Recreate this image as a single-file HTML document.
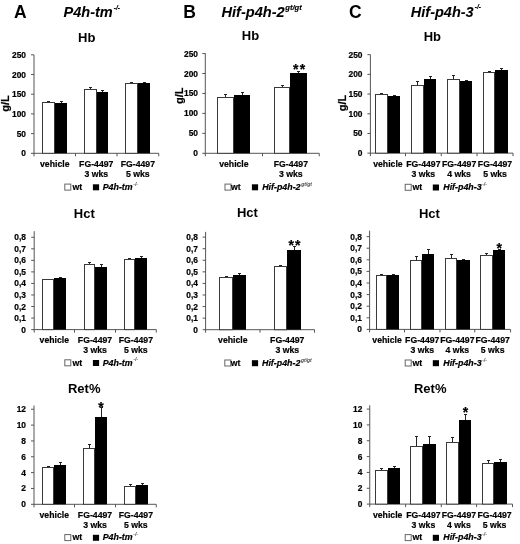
<!DOCTYPE html>
<html><head><meta charset="utf-8"><style>
html,body{margin:0;padding:0;background:#fff;width:520px;height:544px;overflow:hidden}
svg{display:block;filter:grayscale(1)}
text{font-family:"Liberation Sans", sans-serif;fill:#000;stroke:#000;stroke-width:0.2px}
</style></head><body>
<svg width="520" height="544" viewBox="0 0 520 544">
<rect width="520" height="544" fill="#fff"/>
<text x="14" y="17.8" font-size="17.5" text-anchor="start" font-weight="bold" font-style="normal" style="stroke-width:0px" >A</text>
<text x="63.5" y="17" font-size="14.55" text-anchor="start" font-weight="bold" font-style="italic" style="stroke-width:0.05px" >P4h-tm<tspan font-size="6.6" dx="0.9" dy="-7.4" style="stroke-width:0.15px">-/-</tspan></text>
<text x="183.2" y="17.8" font-size="17.5" text-anchor="start" font-weight="bold" font-style="normal" style="stroke-width:0px" >B</text>
<text x="221.5" y="17" font-size="14.6" text-anchor="start" font-weight="bold" font-style="italic" style="stroke-width:0.05px" >Hif-p4h-2<tspan font-size="7.6" dx="0.6" dy="-7.3" style="stroke-width:0.15px">gt/gt</tspan></text>
<text x="349" y="17.8" font-size="17.5" text-anchor="start" font-weight="bold" font-style="normal" style="stroke-width:0px" >C</text>
<text x="410.8" y="17" font-size="14.5" text-anchor="start" font-weight="bold" font-style="italic" style="stroke-width:0.05px" >Hif-p4h-3<tspan font-size="6.6" dx="1.2" dy="-7.8" style="stroke-width:0.15px">-/-</tspan></text>
<text x="86.7" y="42.3" font-size="13" text-anchor="middle" font-weight="bold" font-style="normal" style="stroke-width:0px" >Hb</text>
<text x="250.5" y="40.2" font-size="13" text-anchor="middle" font-weight="bold" font-style="normal" style="stroke-width:0px" >Hb</text>
<text x="432.4" y="41.4" font-size="13" text-anchor="middle" font-weight="bold" font-style="normal" style="stroke-width:0px" >Hb</text>
<text x="84.3" y="218.4" font-size="13" text-anchor="middle" font-weight="bold" font-style="normal" style="stroke-width:0px" >Hct</text>
<text x="247.4" y="216.7" font-size="13" text-anchor="middle" font-weight="bold" font-style="normal" style="stroke-width:0px" >Hct</text>
<text x="429.4" y="217.6" font-size="13" text-anchor="middle" font-weight="bold" font-style="normal" style="stroke-width:0px" >Hct</text>
<text x="84.2" y="392.7" font-size="13" text-anchor="middle" font-weight="bold" font-style="normal" style="stroke-width:0px" >Ret%</text>
<text x="430.2" y="392.7" font-size="13" text-anchor="middle" font-weight="bold" font-style="normal" style="stroke-width:0px" >Ret%</text>
<text x="9" y="103.5" font-size="11" text-anchor="middle" font-weight="bold" font-style="normal" transform="rotate(-90 9 103.5)">g/L</text>
<text x="182.6" y="95.8" font-size="11" text-anchor="middle" font-weight="bold" font-style="normal" transform="rotate(-90 182.6 95.8)">g/L</text>
<text x="345.5" y="103" font-size="11" text-anchor="middle" font-weight="bold" font-style="normal" transform="rotate(-90 345.5 103)">g/L</text>
<line x1="34" y1="55" x2="34" y2="153.8" stroke="#555" stroke-width="1"/>
<line x1="31" y1="153.3" x2="34" y2="153.3" stroke="#555" stroke-width="1"/>
<text x="26" y="156.3" font-size="8.4" text-anchor="end" font-weight="bold" font-style="normal" >0</text>
<line x1="31" y1="133.60000000000002" x2="34" y2="133.60000000000002" stroke="#555" stroke-width="1"/>
<text x="26" y="136.60000000000002" font-size="8.4" text-anchor="end" font-weight="bold" font-style="normal" >50</text>
<line x1="31" y1="113.9" x2="34" y2="113.9" stroke="#555" stroke-width="1"/>
<text x="26" y="116.9" font-size="8.4" text-anchor="end" font-weight="bold" font-style="normal" >100</text>
<line x1="31" y1="94.20000000000002" x2="34" y2="94.20000000000002" stroke="#555" stroke-width="1"/>
<text x="26" y="97.20000000000002" font-size="8.4" text-anchor="end" font-weight="bold" font-style="normal" >150</text>
<line x1="31" y1="74.50000000000001" x2="34" y2="74.50000000000001" stroke="#555" stroke-width="1"/>
<text x="26" y="77.50000000000001" font-size="8.4" text-anchor="end" font-weight="bold" font-style="normal" >200</text>
<line x1="31" y1="54.800000000000026" x2="34" y2="54.800000000000026" stroke="#555" stroke-width="1"/>
<text x="26" y="57.800000000000026" font-size="8.4" text-anchor="end" font-weight="bold" font-style="normal" >250</text>
<line x1="34" y1="153.3" x2="158.75" y2="153.3" stroke="#555" stroke-width="1"/>
<line x1="34" y1="153.3" x2="34" y2="156.3" stroke="#555" stroke-width="1"/>
<line x1="75.5" y1="153.3" x2="75.5" y2="156.3" stroke="#555" stroke-width="1"/>
<line x1="117" y1="153.3" x2="117" y2="156.3" stroke="#555" stroke-width="1"/>
<line x1="158.75" y1="153.3" x2="158.75" y2="156.3" stroke="#555" stroke-width="1"/>
<line x1="48.5" y1="101.5" x2="48.5" y2="102" stroke="#222" stroke-width="1"/>
<line x1="47.0" y1="101.5" x2="50.0" y2="101.5" stroke="#222" stroke-width="1"/>
<rect x="42.5" y="102.5" width="12" height="50.80000000000001" fill="#fff" stroke="#3a3a3a" stroke-width="1"/>
<line x1="61.5" y1="101.5" x2="61.5" y2="103" stroke="#222" stroke-width="1"/>
<line x1="60.0" y1="101.5" x2="63.0" y2="101.5" stroke="#222" stroke-width="1"/>
<rect x="55" y="103" width="12" height="50.30000000000001" fill="#000"/>
<line x1="90.5" y1="87.5" x2="90.5" y2="89" stroke="#222" stroke-width="1"/>
<line x1="89.0" y1="87.5" x2="92.0" y2="87.5" stroke="#222" stroke-width="1"/>
<rect x="84.5" y="89.5" width="12" height="63.80000000000001" fill="#fff" stroke="#3a3a3a" stroke-width="1"/>
<line x1="102.5" y1="90.5" x2="102.5" y2="92" stroke="#222" stroke-width="1"/>
<line x1="101.0" y1="90.5" x2="104.0" y2="90.5" stroke="#222" stroke-width="1"/>
<rect x="97" y="92" width="11" height="61.30000000000001" fill="#000"/>
<line x1="131.5" y1="82.5" x2="131.5" y2="83" stroke="#222" stroke-width="1"/>
<line x1="130.0" y1="82.5" x2="133.0" y2="82.5" stroke="#222" stroke-width="1"/>
<rect x="125.5" y="83.5" width="12" height="69.80000000000001" fill="#fff" stroke="#3a3a3a" stroke-width="1"/>
<line x1="144.5" y1="82.5" x2="144.5" y2="83" stroke="#222" stroke-width="1"/>
<line x1="143.0" y1="82.5" x2="146.0" y2="82.5" stroke="#222" stroke-width="1"/>
<rect x="138" y="83" width="12" height="70.30000000000001" fill="#000"/>
<text x="54.75" y="167.3" font-size="8.7" text-anchor="middle" font-weight="bold" font-style="normal" >vehicle</text>
<text x="96.25" y="167.3" font-size="8.7" text-anchor="middle" font-weight="bold" font-style="normal" >FG-4497</text>
<text x="96.25" y="177.0" font-size="8.7" text-anchor="middle" font-weight="bold" font-style="normal" >3 wks</text>
<text x="137.875" y="167.3" font-size="8.7" text-anchor="middle" font-weight="bold" font-style="normal" >FG-4497</text>
<text x="137.875" y="177.0" font-size="8.7" text-anchor="middle" font-weight="bold" font-style="normal" >5 wks</text>
<line x1="34.2" y1="231.2" x2="34.2" y2="330.1" stroke="#555" stroke-width="1"/>
<line x1="31.200000000000003" y1="329.6" x2="34.2" y2="329.6" stroke="#555" stroke-width="1"/>
<text x="26" y="332.6" font-size="8.4" text-anchor="end" font-weight="bold" font-style="normal" >0</text>
<line x1="31.200000000000003" y1="318.06" x2="34.2" y2="318.06" stroke="#555" stroke-width="1"/>
<text x="26" y="321.06" font-size="8.4" text-anchor="end" font-weight="bold" font-style="normal" >0,1</text>
<line x1="31.200000000000003" y1="306.52000000000004" x2="34.2" y2="306.52000000000004" stroke="#555" stroke-width="1"/>
<text x="26" y="309.52000000000004" font-size="8.4" text-anchor="end" font-weight="bold" font-style="normal" >0,2</text>
<line x1="31.200000000000003" y1="294.98" x2="34.2" y2="294.98" stroke="#555" stroke-width="1"/>
<text x="26" y="297.98" font-size="8.4" text-anchor="end" font-weight="bold" font-style="normal" >0,3</text>
<line x1="31.200000000000003" y1="283.44" x2="34.2" y2="283.44" stroke="#555" stroke-width="1"/>
<text x="26" y="286.44" font-size="8.4" text-anchor="end" font-weight="bold" font-style="normal" >0,4</text>
<line x1="31.200000000000003" y1="271.90000000000003" x2="34.2" y2="271.90000000000003" stroke="#555" stroke-width="1"/>
<text x="26" y="274.90000000000003" font-size="8.4" text-anchor="end" font-weight="bold" font-style="normal" >0,5</text>
<line x1="31.200000000000003" y1="260.36" x2="34.2" y2="260.36" stroke="#555" stroke-width="1"/>
<text x="26" y="263.36" font-size="8.4" text-anchor="end" font-weight="bold" font-style="normal" >0,6</text>
<line x1="31.200000000000003" y1="248.82000000000002" x2="34.2" y2="248.82000000000002" stroke="#555" stroke-width="1"/>
<text x="26" y="251.82000000000002" font-size="8.4" text-anchor="end" font-weight="bold" font-style="normal" >0,7</text>
<line x1="31.200000000000003" y1="237.28000000000003" x2="34.2" y2="237.28000000000003" stroke="#555" stroke-width="1"/>
<text x="26" y="240.28000000000003" font-size="8.4" text-anchor="end" font-weight="bold" font-style="normal" >0,8</text>
<line x1="34.2" y1="329.6" x2="156.25" y2="329.6" stroke="#555" stroke-width="1"/>
<line x1="34.2" y1="329.6" x2="34.2" y2="332.6" stroke="#555" stroke-width="1"/>
<line x1="74.5" y1="329.6" x2="74.5" y2="332.6" stroke="#555" stroke-width="1"/>
<line x1="115.5" y1="329.6" x2="115.5" y2="332.6" stroke="#555" stroke-width="1"/>
<line x1="156.25" y1="329.6" x2="156.25" y2="332.6" stroke="#555" stroke-width="1"/>
<line x1="48.5" y1="279.5" x2="48.5" y2="279" stroke="#222" stroke-width="1"/>
<line x1="47.0" y1="279.5" x2="50.0" y2="279.5" stroke="#222" stroke-width="1"/>
<rect x="42.5" y="279.5" width="11" height="50.10000000000002" fill="#fff" stroke="#3a3a3a" stroke-width="1"/>
<line x1="60.5" y1="277.5" x2="60.5" y2="278" stroke="#222" stroke-width="1"/>
<line x1="59.0" y1="277.5" x2="62.0" y2="277.5" stroke="#222" stroke-width="1"/>
<rect x="54" y="278" width="12" height="51.60000000000002" fill="#000"/>
<line x1="89.5" y1="262.5" x2="89.5" y2="264" stroke="#222" stroke-width="1"/>
<line x1="88.0" y1="262.5" x2="91.0" y2="262.5" stroke="#222" stroke-width="1"/>
<rect x="84.5" y="264.5" width="10" height="65.10000000000002" fill="#fff" stroke="#3a3a3a" stroke-width="1"/>
<line x1="101.5" y1="264.5" x2="101.5" y2="267" stroke="#222" stroke-width="1"/>
<line x1="100.0" y1="264.5" x2="103.0" y2="264.5" stroke="#222" stroke-width="1"/>
<rect x="95" y="267" width="12" height="62.60000000000002" fill="#000"/>
<line x1="129.5" y1="258.5" x2="129.5" y2="259" stroke="#222" stroke-width="1"/>
<line x1="128.0" y1="258.5" x2="131.0" y2="258.5" stroke="#222" stroke-width="1"/>
<rect x="124.5" y="259.5" width="10" height="70.10000000000002" fill="#fff" stroke="#3a3a3a" stroke-width="1"/>
<line x1="141.5" y1="256.5" x2="141.5" y2="258" stroke="#222" stroke-width="1"/>
<line x1="140.0" y1="256.5" x2="143.0" y2="256.5" stroke="#222" stroke-width="1"/>
<rect x="135" y="258" width="12" height="71.60000000000002" fill="#000"/>
<text x="54.35" y="342.5" font-size="8.7" text-anchor="middle" font-weight="bold" font-style="normal" >vehicle</text>
<text x="95.0" y="342.5" font-size="8.7" text-anchor="middle" font-weight="bold" font-style="normal" >FG-4497</text>
<text x="95.0" y="352.6" font-size="8.7" text-anchor="middle" font-weight="bold" font-style="normal" >3 wks</text>
<text x="135.875" y="342.5" font-size="8.7" text-anchor="middle" font-weight="bold" font-style="normal" >FG-4497</text>
<text x="135.875" y="352.6" font-size="8.7" text-anchor="middle" font-weight="bold" font-style="normal" >5 wks</text>
<line x1="34" y1="405.5" x2="34" y2="504.8" stroke="#555" stroke-width="1"/>
<line x1="31" y1="504.3" x2="34" y2="504.3" stroke="#555" stroke-width="1"/>
<text x="26" y="507.3" font-size="8.4" text-anchor="end" font-weight="bold" font-style="normal" >0</text>
<line x1="31" y1="488.46000000000004" x2="34" y2="488.46000000000004" stroke="#555" stroke-width="1"/>
<text x="26" y="491.46000000000004" font-size="8.4" text-anchor="end" font-weight="bold" font-style="normal" >2</text>
<line x1="31" y1="472.62" x2="34" y2="472.62" stroke="#555" stroke-width="1"/>
<text x="26" y="475.62" font-size="8.4" text-anchor="end" font-weight="bold" font-style="normal" >4</text>
<line x1="31" y1="456.78000000000003" x2="34" y2="456.78000000000003" stroke="#555" stroke-width="1"/>
<text x="26" y="459.78000000000003" font-size="8.4" text-anchor="end" font-weight="bold" font-style="normal" >6</text>
<line x1="31" y1="440.94" x2="34" y2="440.94" stroke="#555" stroke-width="1"/>
<text x="26" y="443.94" font-size="8.4" text-anchor="end" font-weight="bold" font-style="normal" >8</text>
<line x1="31" y1="425.1" x2="34" y2="425.1" stroke="#555" stroke-width="1"/>
<text x="26" y="428.1" font-size="8.4" text-anchor="end" font-weight="bold" font-style="normal" >10</text>
<line x1="31" y1="409.26" x2="34" y2="409.26" stroke="#555" stroke-width="1"/>
<text x="26" y="412.26" font-size="8.4" text-anchor="end" font-weight="bold" font-style="normal" >12</text>
<line x1="34" y1="504.3" x2="156.25" y2="504.3" stroke="#555" stroke-width="1"/>
<line x1="34" y1="504.3" x2="34" y2="507.3" stroke="#555" stroke-width="1"/>
<line x1="74.5" y1="504.3" x2="74.5" y2="507.3" stroke="#555" stroke-width="1"/>
<line x1="115.5" y1="504.3" x2="115.5" y2="507.3" stroke="#555" stroke-width="1"/>
<line x1="156.25" y1="504.3" x2="156.25" y2="507.3" stroke="#555" stroke-width="1"/>
<line x1="48.5" y1="466.5" x2="48.5" y2="467" stroke="#222" stroke-width="1"/>
<line x1="47.0" y1="466.5" x2="50.0" y2="466.5" stroke="#222" stroke-width="1"/>
<rect x="42.5" y="467.5" width="11" height="36.80000000000001" fill="#fff" stroke="#3a3a3a" stroke-width="1"/>
<line x1="60.5" y1="462.5" x2="60.5" y2="465" stroke="#222" stroke-width="1"/>
<line x1="59.0" y1="462.5" x2="62.0" y2="462.5" stroke="#222" stroke-width="1"/>
<rect x="54" y="465" width="12" height="39.30000000000001" fill="#000"/>
<line x1="89.5" y1="444.5" x2="89.5" y2="448" stroke="#222" stroke-width="1"/>
<line x1="88.0" y1="444.5" x2="91.0" y2="444.5" stroke="#222" stroke-width="1"/>
<rect x="83.5" y="448.5" width="11" height="55.80000000000001" fill="#fff" stroke="#3a3a3a" stroke-width="1"/>
<line x1="101.5" y1="407.5" x2="101.5" y2="417" stroke="#222" stroke-width="1"/>
<line x1="100.0" y1="407.5" x2="103.0" y2="407.5" stroke="#222" stroke-width="1"/>
<rect x="95" y="417" width="12" height="87.30000000000001" fill="#000"/>
<line x1="130.5" y1="484.5" x2="130.5" y2="486" stroke="#222" stroke-width="1"/>
<line x1="129.0" y1="484.5" x2="132.0" y2="484.5" stroke="#222" stroke-width="1"/>
<rect x="124.5" y="486.5" width="11" height="17.80000000000001" fill="#fff" stroke="#3a3a3a" stroke-width="1"/>
<line x1="142.5" y1="483.5" x2="142.5" y2="485" stroke="#222" stroke-width="1"/>
<line x1="141.0" y1="483.5" x2="144.0" y2="483.5" stroke="#222" stroke-width="1"/>
<rect x="136" y="485" width="12" height="19.30000000000001" fill="#000"/>
<text x="54.25" y="517.9" font-size="8.7" text-anchor="middle" font-weight="bold" font-style="normal" >vehicle</text>
<text x="95.0" y="517.9" font-size="8.7" text-anchor="middle" font-weight="bold" font-style="normal" >FG-4497</text>
<text x="95.0" y="527.8" font-size="8.7" text-anchor="middle" font-weight="bold" font-style="normal" >3 wks</text>
<text x="135.875" y="517.9" font-size="8.7" text-anchor="middle" font-weight="bold" font-style="normal" >FG-4497</text>
<text x="135.875" y="527.8" font-size="8.7" text-anchor="middle" font-weight="bold" font-style="normal" >5 wks</text>
<text x="100.9" y="411.5" font-size="14" text-anchor="middle" font-weight="bold" font-style="normal" >*</text>
<rect x="64.8" y="184.1" width="6.0" height="6.0" fill="#fff" stroke="#666" stroke-width="1"/>
<text x="72.4" y="189.9" font-size="8.7" text-anchor="start" font-weight="bold" font-style="normal" >wt</text>
<rect x="92.9" y="184.3" width="6.2" height="6.0" fill="#000"/>
<text x="102.7" y="189.9" font-size="8.85" text-anchor="start" font-weight="bold" font-style="italic" >P4h-tm<tspan font-size="5" dx="0.6" dy="-4.3" style="fill:#444;stroke:none">-/-</tspan></text>
<rect x="64.8" y="359.8" width="6.0" height="6.0" fill="#fff" stroke="#666" stroke-width="1"/>
<text x="72.4" y="365.6" font-size="8.7" text-anchor="start" font-weight="bold" font-style="normal" >wt</text>
<rect x="92.9" y="360.0" width="6.2" height="6.0" fill="#000"/>
<text x="102.7" y="365.6" font-size="8.85" text-anchor="start" font-weight="bold" font-style="italic" >P4h-tm<tspan font-size="5" dx="0.6" dy="-4.3" style="fill:#444;stroke:none">-/-</tspan></text>
<rect x="64.8" y="534.6" width="6.0" height="6.0" fill="#fff" stroke="#666" stroke-width="1"/>
<text x="72.4" y="540.4" font-size="8.7" text-anchor="start" font-weight="bold" font-style="normal" >wt</text>
<rect x="92.9" y="534.8" width="6.2" height="6.0" fill="#000"/>
<text x="102.7" y="540.4" font-size="8.85" text-anchor="start" font-weight="bold" font-style="italic" >P4h-tm<tspan font-size="5" dx="0.6" dy="-4.3" style="fill:#444;stroke:none">-/-</tspan></text>
<line x1="205.3" y1="53.3" x2="205.3" y2="153.8" stroke="#555" stroke-width="1"/>
<line x1="202.3" y1="153.3" x2="205.3" y2="153.3" stroke="#555" stroke-width="1"/>
<text x="198" y="156.3" font-size="8.4" text-anchor="end" font-weight="bold" font-style="normal" >0</text>
<line x1="202.3" y1="133.35000000000002" x2="205.3" y2="133.35000000000002" stroke="#555" stroke-width="1"/>
<text x="198" y="136.35000000000002" font-size="8.4" text-anchor="end" font-weight="bold" font-style="normal" >50</text>
<line x1="202.3" y1="113.4" x2="205.3" y2="113.4" stroke="#555" stroke-width="1"/>
<text x="198" y="116.4" font-size="8.4" text-anchor="end" font-weight="bold" font-style="normal" >100</text>
<line x1="202.3" y1="93.45000000000002" x2="205.3" y2="93.45000000000002" stroke="#555" stroke-width="1"/>
<text x="198" y="96.45000000000002" font-size="8.4" text-anchor="end" font-weight="bold" font-style="normal" >150</text>
<line x1="202.3" y1="73.50000000000001" x2="205.3" y2="73.50000000000001" stroke="#555" stroke-width="1"/>
<text x="198" y="76.50000000000001" font-size="8.4" text-anchor="end" font-weight="bold" font-style="normal" >200</text>
<line x1="202.3" y1="53.550000000000026" x2="205.3" y2="53.550000000000026" stroke="#555" stroke-width="1"/>
<text x="198" y="56.550000000000026" font-size="8.4" text-anchor="end" font-weight="bold" font-style="normal" >250</text>
<line x1="205.3" y1="153.3" x2="319.25" y2="153.3" stroke="#555" stroke-width="1"/>
<line x1="205.3" y1="153.3" x2="205.3" y2="156.3" stroke="#555" stroke-width="1"/>
<line x1="262.5" y1="153.3" x2="262.5" y2="156.3" stroke="#555" stroke-width="1"/>
<line x1="319.25" y1="153.3" x2="319.25" y2="156.3" stroke="#555" stroke-width="1"/>
<line x1="225.5" y1="94.5" x2="225.5" y2="97" stroke="#222" stroke-width="1"/>
<line x1="224.0" y1="94.5" x2="227.0" y2="94.5" stroke="#222" stroke-width="1"/>
<rect x="217.5" y="97.5" width="16" height="55.80000000000001" fill="#fff" stroke="#3a3a3a" stroke-width="1"/>
<line x1="242.5" y1="92.5" x2="242.5" y2="95" stroke="#222" stroke-width="1"/>
<line x1="241.0" y1="92.5" x2="244.0" y2="92.5" stroke="#222" stroke-width="1"/>
<rect x="234" y="95" width="16" height="58.30000000000001" fill="#000"/>
<line x1="282.5" y1="85.5" x2="282.5" y2="87" stroke="#222" stroke-width="1"/>
<line x1="281.0" y1="85.5" x2="284.0" y2="85.5" stroke="#222" stroke-width="1"/>
<rect x="274.5" y="87.5" width="15" height="65.80000000000001" fill="#fff" stroke="#3a3a3a" stroke-width="1"/>
<line x1="298.5" y1="71.5" x2="298.5" y2="73" stroke="#222" stroke-width="1"/>
<line x1="297.0" y1="71.5" x2="300.0" y2="71.5" stroke="#222" stroke-width="1"/>
<rect x="290" y="73" width="17" height="80.30000000000001" fill="#000"/>
<text x="233.9" y="167.3" font-size="8.7" text-anchor="middle" font-weight="bold" font-style="normal" >vehicle</text>
<text x="290.875" y="167.3" font-size="8.7" text-anchor="middle" font-weight="bold" font-style="normal" >FG-4497</text>
<text x="290.875" y="177.0" font-size="8.7" text-anchor="middle" font-weight="bold" font-style="normal" >3 wks</text>
<text x="295.7" y="74.0" font-size="14" text-anchor="middle" font-weight="bold" font-style="normal" >*</text>
<text x="302.6" y="74.0" font-size="14" text-anchor="middle" font-weight="bold" font-style="normal" >*</text>
<line x1="205.6" y1="231.9" x2="205.6" y2="330.2" stroke="#555" stroke-width="1"/>
<line x1="202.6" y1="329.7" x2="205.6" y2="329.7" stroke="#555" stroke-width="1"/>
<text x="198" y="332.7" font-size="8.4" text-anchor="end" font-weight="bold" font-style="normal" >0</text>
<line x1="202.6" y1="318.13" x2="205.6" y2="318.13" stroke="#555" stroke-width="1"/>
<text x="198" y="321.13" font-size="8.4" text-anchor="end" font-weight="bold" font-style="normal" >0,1</text>
<line x1="202.6" y1="306.56" x2="205.6" y2="306.56" stroke="#555" stroke-width="1"/>
<text x="198" y="309.56" font-size="8.4" text-anchor="end" font-weight="bold" font-style="normal" >0,2</text>
<line x1="202.6" y1="294.99" x2="205.6" y2="294.99" stroke="#555" stroke-width="1"/>
<text x="198" y="297.99" font-size="8.4" text-anchor="end" font-weight="bold" font-style="normal" >0,3</text>
<line x1="202.6" y1="283.41999999999996" x2="205.6" y2="283.41999999999996" stroke="#555" stroke-width="1"/>
<text x="198" y="286.41999999999996" font-size="8.4" text-anchor="end" font-weight="bold" font-style="normal" >0,4</text>
<line x1="202.6" y1="271.84999999999997" x2="205.6" y2="271.84999999999997" stroke="#555" stroke-width="1"/>
<text x="198" y="274.84999999999997" font-size="8.4" text-anchor="end" font-weight="bold" font-style="normal" >0,5</text>
<line x1="202.6" y1="260.28" x2="205.6" y2="260.28" stroke="#555" stroke-width="1"/>
<text x="198" y="263.28" font-size="8.4" text-anchor="end" font-weight="bold" font-style="normal" >0,6</text>
<line x1="202.6" y1="248.70999999999998" x2="205.6" y2="248.70999999999998" stroke="#555" stroke-width="1"/>
<text x="198" y="251.70999999999998" font-size="8.4" text-anchor="end" font-weight="bold" font-style="normal" >0,7</text>
<line x1="202.6" y1="237.14" x2="205.6" y2="237.14" stroke="#555" stroke-width="1"/>
<text x="198" y="240.14" font-size="8.4" text-anchor="end" font-weight="bold" font-style="normal" >0,8</text>
<line x1="205.6" y1="329.7" x2="314.5" y2="329.7" stroke="#555" stroke-width="1"/>
<line x1="205.6" y1="329.7" x2="205.6" y2="332.7" stroke="#555" stroke-width="1"/>
<line x1="260" y1="329.7" x2="260" y2="332.7" stroke="#555" stroke-width="1"/>
<line x1="314.5" y1="329.7" x2="314.5" y2="332.7" stroke="#555" stroke-width="1"/>
<line x1="226.5" y1="276.5" x2="226.5" y2="277" stroke="#222" stroke-width="1"/>
<line x1="225.0" y1="276.5" x2="228.0" y2="276.5" stroke="#222" stroke-width="1"/>
<rect x="219.5" y="277.5" width="13" height="52.19999999999999" fill="#fff" stroke="#3a3a3a" stroke-width="1"/>
<line x1="239.5" y1="273.5" x2="239.5" y2="275" stroke="#222" stroke-width="1"/>
<line x1="238.0" y1="273.5" x2="241.0" y2="273.5" stroke="#222" stroke-width="1"/>
<rect x="233" y="275" width="13" height="54.69999999999999" fill="#000"/>
<line x1="280.5" y1="265.5" x2="280.5" y2="266" stroke="#222" stroke-width="1"/>
<line x1="279.0" y1="265.5" x2="282.0" y2="265.5" stroke="#222" stroke-width="1"/>
<rect x="274.5" y="266.5" width="12" height="63.19999999999999" fill="#fff" stroke="#3a3a3a" stroke-width="1"/>
<line x1="294.5" y1="246.5" x2="294.5" y2="250" stroke="#222" stroke-width="1"/>
<line x1="293.0" y1="246.5" x2="296.0" y2="246.5" stroke="#222" stroke-width="1"/>
<rect x="287" y="250" width="14" height="79.69999999999999" fill="#000"/>
<text x="232.8" y="342.5" font-size="8.7" text-anchor="middle" font-weight="bold" font-style="normal" >vehicle</text>
<text x="287.25" y="342.5" font-size="8.7" text-anchor="middle" font-weight="bold" font-style="normal" >FG-4497</text>
<text x="287.25" y="352.6" font-size="8.7" text-anchor="middle" font-weight="bold" font-style="normal" >3 wks</text>
<text x="291.2" y="249.8" font-size="14" text-anchor="middle" font-weight="bold" font-style="normal" >*</text>
<text x="297.75" y="249.8" font-size="14" text-anchor="middle" font-weight="bold" font-style="normal" >*</text>
<rect x="225.0" y="184.1" width="6.0" height="6.0" fill="#fff" stroke="#666" stroke-width="1"/>
<text x="231" y="189.9" font-size="8.7" text-anchor="start" font-weight="bold" font-style="normal" >wt</text>
<rect x="251.9" y="184.3" width="6.2" height="6.0" fill="#000"/>
<text x="262.2" y="189.9" font-size="8.85" text-anchor="start" font-weight="bold" font-style="italic" >Hif-p4h-2<tspan font-size="5" dx="0.6" dy="-4.3" style="fill:#444;stroke:none">gt/gt</tspan></text>
<rect x="224.8" y="360.0" width="6.0" height="6.0" fill="#fff" stroke="#666" stroke-width="1"/>
<text x="230.7" y="365.8" font-size="8.7" text-anchor="start" font-weight="bold" font-style="normal" >wt</text>
<rect x="251.9" y="360.2" width="6.2" height="6.0" fill="#000"/>
<text x="262" y="365.8" font-size="8.85" text-anchor="start" font-weight="bold" font-style="italic" >Hif-p4h-2<tspan font-size="5" dx="0.6" dy="-4.3" style="fill:#444;stroke:none">gt/gt</tspan></text>
<line x1="370.4" y1="54.6" x2="370.4" y2="153.65" stroke="#555" stroke-width="1"/>
<line x1="367.4" y1="153.15" x2="370.4" y2="153.15" stroke="#555" stroke-width="1"/>
<text x="362.5" y="156.15" font-size="8.4" text-anchor="end" font-weight="bold" font-style="normal" >0</text>
<line x1="367.4" y1="133.45000000000002" x2="370.4" y2="133.45000000000002" stroke="#555" stroke-width="1"/>
<text x="362.5" y="136.45000000000002" font-size="8.4" text-anchor="end" font-weight="bold" font-style="normal" >50</text>
<line x1="367.4" y1="113.75" x2="370.4" y2="113.75" stroke="#555" stroke-width="1"/>
<text x="362.5" y="116.75" font-size="8.4" text-anchor="end" font-weight="bold" font-style="normal" >100</text>
<line x1="367.4" y1="94.05000000000001" x2="370.4" y2="94.05000000000001" stroke="#555" stroke-width="1"/>
<text x="362.5" y="97.05000000000001" font-size="8.4" text-anchor="end" font-weight="bold" font-style="normal" >150</text>
<line x1="367.4" y1="74.35000000000001" x2="370.4" y2="74.35000000000001" stroke="#555" stroke-width="1"/>
<text x="362.5" y="77.35000000000001" font-size="8.4" text-anchor="end" font-weight="bold" font-style="normal" >200</text>
<line x1="367.4" y1="54.65000000000002" x2="370.4" y2="54.65000000000002" stroke="#555" stroke-width="1"/>
<text x="362.5" y="57.65000000000002" font-size="8.4" text-anchor="end" font-weight="bold" font-style="normal" >250</text>
<line x1="370.4" y1="153.15" x2="513" y2="153.15" stroke="#555" stroke-width="1"/>
<line x1="370.4" y1="153.15" x2="370.4" y2="156.15" stroke="#555" stroke-width="1"/>
<line x1="405.5" y1="153.15" x2="405.5" y2="156.15" stroke="#555" stroke-width="1"/>
<line x1="441.25" y1="153.15" x2="441.25" y2="156.15" stroke="#555" stroke-width="1"/>
<line x1="477" y1="153.15" x2="477" y2="156.15" stroke="#555" stroke-width="1"/>
<line x1="513" y1="153.15" x2="513" y2="156.15" stroke="#555" stroke-width="1"/>
<line x1="381.5" y1="93.5" x2="381.5" y2="94" stroke="#222" stroke-width="1"/>
<line x1="380.0" y1="93.5" x2="383.0" y2="93.5" stroke="#222" stroke-width="1"/>
<rect x="375.5" y="94.5" width="12" height="58.650000000000006" fill="#fff" stroke="#3a3a3a" stroke-width="1"/>
<line x1="394.5" y1="95.5" x2="394.5" y2="96" stroke="#222" stroke-width="1"/>
<line x1="393.0" y1="95.5" x2="396.0" y2="95.5" stroke="#222" stroke-width="1"/>
<rect x="388" y="96" width="12" height="57.150000000000006" fill="#000"/>
<line x1="417.5" y1="81.5" x2="417.5" y2="85" stroke="#222" stroke-width="1"/>
<line x1="416.0" y1="81.5" x2="419.0" y2="81.5" stroke="#222" stroke-width="1"/>
<rect x="411.5" y="85.5" width="12" height="67.65" fill="#fff" stroke="#3a3a3a" stroke-width="1"/>
<line x1="430.5" y1="76.5" x2="430.5" y2="79" stroke="#222" stroke-width="1"/>
<line x1="429.0" y1="76.5" x2="432.0" y2="76.5" stroke="#222" stroke-width="1"/>
<rect x="424" y="79" width="12" height="74.15" fill="#000"/>
<line x1="453.5" y1="75.5" x2="453.5" y2="79" stroke="#222" stroke-width="1"/>
<line x1="452.0" y1="75.5" x2="455.0" y2="75.5" stroke="#222" stroke-width="1"/>
<rect x="447.5" y="79.5" width="12" height="73.65" fill="#fff" stroke="#3a3a3a" stroke-width="1"/>
<line x1="466.5" y1="80.5" x2="466.5" y2="81" stroke="#222" stroke-width="1"/>
<line x1="465.0" y1="80.5" x2="468.0" y2="80.5" stroke="#222" stroke-width="1"/>
<rect x="460" y="81" width="12" height="72.15" fill="#000"/>
<line x1="489.5" y1="71.5" x2="489.5" y2="72" stroke="#222" stroke-width="1"/>
<line x1="488.0" y1="71.5" x2="491.0" y2="71.5" stroke="#222" stroke-width="1"/>
<rect x="483.5" y="72.5" width="11" height="80.65" fill="#fff" stroke="#3a3a3a" stroke-width="1"/>
<line x1="501.5" y1="68.5" x2="501.5" y2="70" stroke="#222" stroke-width="1"/>
<line x1="500.0" y1="68.5" x2="503.0" y2="68.5" stroke="#222" stroke-width="1"/>
<rect x="495" y="70" width="13" height="83.15" fill="#000"/>
<text x="387.95" y="167.3" font-size="8.7" text-anchor="middle" font-weight="bold" font-style="normal" >vehicle</text>
<text x="423.375" y="167.3" font-size="8.7" text-anchor="middle" font-weight="bold" font-style="normal" >FG-4497</text>
<text x="423.375" y="177.0" font-size="8.7" text-anchor="middle" font-weight="bold" font-style="normal" >3 wks</text>
<text x="459.125" y="167.3" font-size="8.7" text-anchor="middle" font-weight="bold" font-style="normal" >FG-4497</text>
<text x="459.125" y="177.0" font-size="8.7" text-anchor="middle" font-weight="bold" font-style="normal" >4 wks</text>
<text x="495.0" y="167.3" font-size="8.7" text-anchor="middle" font-weight="bold" font-style="normal" >FG-4497</text>
<text x="495.0" y="177.0" font-size="8.7" text-anchor="middle" font-weight="bold" font-style="normal" >5 wks</text>
<line x1="369.6" y1="230.6" x2="369.6" y2="329.9" stroke="#555" stroke-width="1"/>
<line x1="366.6" y1="329.4" x2="369.6" y2="329.4" stroke="#555" stroke-width="1"/>
<text x="362" y="332.4" font-size="8.4" text-anchor="end" font-weight="bold" font-style="normal" >0</text>
<line x1="366.6" y1="317.79999999999995" x2="369.6" y2="317.79999999999995" stroke="#555" stroke-width="1"/>
<text x="362" y="320.79999999999995" font-size="8.4" text-anchor="end" font-weight="bold" font-style="normal" >0,1</text>
<line x1="366.6" y1="306.2" x2="369.6" y2="306.2" stroke="#555" stroke-width="1"/>
<text x="362" y="309.2" font-size="8.4" text-anchor="end" font-weight="bold" font-style="normal" >0,2</text>
<line x1="366.6" y1="294.59999999999997" x2="369.6" y2="294.59999999999997" stroke="#555" stroke-width="1"/>
<text x="362" y="297.59999999999997" font-size="8.4" text-anchor="end" font-weight="bold" font-style="normal" >0,3</text>
<line x1="366.6" y1="283.0" x2="369.6" y2="283.0" stroke="#555" stroke-width="1"/>
<text x="362" y="286.0" font-size="8.4" text-anchor="end" font-weight="bold" font-style="normal" >0,4</text>
<line x1="366.6" y1="271.4" x2="369.6" y2="271.4" stroke="#555" stroke-width="1"/>
<text x="362" y="274.4" font-size="8.4" text-anchor="end" font-weight="bold" font-style="normal" >0,5</text>
<line x1="366.6" y1="259.79999999999995" x2="369.6" y2="259.79999999999995" stroke="#555" stroke-width="1"/>
<text x="362" y="262.79999999999995" font-size="8.4" text-anchor="end" font-weight="bold" font-style="normal" >0,6</text>
<line x1="366.6" y1="248.2" x2="369.6" y2="248.2" stroke="#555" stroke-width="1"/>
<text x="362" y="251.2" font-size="8.4" text-anchor="end" font-weight="bold" font-style="normal" >0,7</text>
<line x1="366.6" y1="236.59999999999997" x2="369.6" y2="236.59999999999997" stroke="#555" stroke-width="1"/>
<text x="362" y="239.59999999999997" font-size="8.4" text-anchor="end" font-weight="bold" font-style="normal" >0,8</text>
<line x1="369.6" y1="329.4" x2="510.6" y2="329.4" stroke="#555" stroke-width="1"/>
<line x1="369.6" y1="329.4" x2="369.6" y2="332.4" stroke="#555" stroke-width="1"/>
<line x1="404.5" y1="329.4" x2="404.5" y2="332.4" stroke="#555" stroke-width="1"/>
<line x1="440" y1="329.4" x2="440" y2="332.4" stroke="#555" stroke-width="1"/>
<line x1="474.75" y1="329.4" x2="474.75" y2="332.4" stroke="#555" stroke-width="1"/>
<line x1="510.6" y1="329.4" x2="510.6" y2="332.4" stroke="#555" stroke-width="1"/>
<line x1="381.5" y1="274.5" x2="381.5" y2="275" stroke="#222" stroke-width="1"/>
<line x1="380.0" y1="274.5" x2="383.0" y2="274.5" stroke="#222" stroke-width="1"/>
<rect x="376.5" y="275.5" width="10" height="53.89999999999998" fill="#fff" stroke="#3a3a3a" stroke-width="1"/>
<line x1="393.5" y1="274.5" x2="393.5" y2="275" stroke="#222" stroke-width="1"/>
<line x1="392.0" y1="274.5" x2="395.0" y2="274.5" stroke="#222" stroke-width="1"/>
<rect x="387" y="275" width="12" height="54.39999999999998" fill="#000"/>
<line x1="416.5" y1="256.5" x2="416.5" y2="260" stroke="#222" stroke-width="1"/>
<line x1="415.0" y1="256.5" x2="418.0" y2="256.5" stroke="#222" stroke-width="1"/>
<rect x="410.5" y="260.5" width="11" height="68.89999999999998" fill="#fff" stroke="#3a3a3a" stroke-width="1"/>
<line x1="428.5" y1="249.5" x2="428.5" y2="254" stroke="#222" stroke-width="1"/>
<line x1="427.0" y1="249.5" x2="430.0" y2="249.5" stroke="#222" stroke-width="1"/>
<rect x="422" y="254" width="12" height="75.39999999999998" fill="#000"/>
<line x1="451.5" y1="254.5" x2="451.5" y2="258" stroke="#222" stroke-width="1"/>
<line x1="450.0" y1="254.5" x2="453.0" y2="254.5" stroke="#222" stroke-width="1"/>
<rect x="445.5" y="258.5" width="11" height="70.89999999999998" fill="#fff" stroke="#3a3a3a" stroke-width="1"/>
<line x1="463.5" y1="259.5" x2="463.5" y2="260" stroke="#222" stroke-width="1"/>
<line x1="462.0" y1="259.5" x2="465.0" y2="259.5" stroke="#222" stroke-width="1"/>
<rect x="457" y="260" width="13" height="69.39999999999998" fill="#000"/>
<line x1="486.5" y1="253.5" x2="486.5" y2="255" stroke="#222" stroke-width="1"/>
<line x1="485.0" y1="253.5" x2="488.0" y2="253.5" stroke="#222" stroke-width="1"/>
<rect x="480.5" y="255.5" width="12" height="73.89999999999998" fill="#fff" stroke="#3a3a3a" stroke-width="1"/>
<line x1="499.5" y1="249.5" x2="499.5" y2="250" stroke="#222" stroke-width="1"/>
<line x1="498.0" y1="249.5" x2="501.0" y2="249.5" stroke="#222" stroke-width="1"/>
<rect x="493" y="250" width="12" height="79.39999999999998" fill="#000"/>
<text x="387.05" y="342.5" font-size="8.7" text-anchor="middle" font-weight="bold" font-style="normal" >vehicle</text>
<text x="422.25" y="342.5" font-size="8.7" text-anchor="middle" font-weight="bold" font-style="normal" >FG-4497</text>
<text x="422.25" y="352.6" font-size="8.7" text-anchor="middle" font-weight="bold" font-style="normal" >3 wks</text>
<text x="457.375" y="342.5" font-size="8.7" text-anchor="middle" font-weight="bold" font-style="normal" >FG-4497</text>
<text x="457.375" y="352.6" font-size="8.7" text-anchor="middle" font-weight="bold" font-style="normal" >4 wks</text>
<text x="492.675" y="342.5" font-size="8.7" text-anchor="middle" font-weight="bold" font-style="normal" >FG-4497</text>
<text x="492.675" y="352.6" font-size="8.7" text-anchor="middle" font-weight="bold" font-style="normal" >5 wks</text>
<text x="499.25" y="252.8" font-size="14" text-anchor="middle" font-weight="bold" font-style="normal" >*</text>
<line x1="369.75" y1="405.25" x2="369.75" y2="504.6" stroke="#555" stroke-width="1"/>
<line x1="366.75" y1="504.1" x2="369.75" y2="504.1" stroke="#555" stroke-width="1"/>
<text x="362.3" y="507.1" font-size="8.4" text-anchor="end" font-weight="bold" font-style="normal" >0</text>
<line x1="366.75" y1="488.266" x2="369.75" y2="488.266" stroke="#555" stroke-width="1"/>
<text x="362.3" y="491.266" font-size="8.4" text-anchor="end" font-weight="bold" font-style="normal" >2</text>
<line x1="366.75" y1="472.432" x2="369.75" y2="472.432" stroke="#555" stroke-width="1"/>
<text x="362.3" y="475.432" font-size="8.4" text-anchor="end" font-weight="bold" font-style="normal" >4</text>
<line x1="366.75" y1="456.598" x2="369.75" y2="456.598" stroke="#555" stroke-width="1"/>
<text x="362.3" y="459.598" font-size="8.4" text-anchor="end" font-weight="bold" font-style="normal" >6</text>
<line x1="366.75" y1="440.764" x2="369.75" y2="440.764" stroke="#555" stroke-width="1"/>
<text x="362.3" y="443.764" font-size="8.4" text-anchor="end" font-weight="bold" font-style="normal" >8</text>
<line x1="366.75" y1="424.93" x2="369.75" y2="424.93" stroke="#555" stroke-width="1"/>
<text x="362.3" y="427.93" font-size="8.4" text-anchor="end" font-weight="bold" font-style="normal" >10</text>
<line x1="366.75" y1="409.096" x2="369.75" y2="409.096" stroke="#555" stroke-width="1"/>
<text x="362.3" y="412.096" font-size="8.4" text-anchor="end" font-weight="bold" font-style="normal" >12</text>
<line x1="369.75" y1="504.1" x2="512.5" y2="504.1" stroke="#555" stroke-width="1"/>
<line x1="369.75" y1="504.1" x2="369.75" y2="507.1" stroke="#555" stroke-width="1"/>
<line x1="405.6" y1="504.1" x2="405.6" y2="507.1" stroke="#555" stroke-width="1"/>
<line x1="441.25" y1="504.1" x2="441.25" y2="507.1" stroke="#555" stroke-width="1"/>
<line x1="476.6" y1="504.1" x2="476.6" y2="507.1" stroke="#555" stroke-width="1"/>
<line x1="512.5" y1="504.1" x2="512.5" y2="507.1" stroke="#555" stroke-width="1"/>
<line x1="381.5" y1="468.5" x2="381.5" y2="470" stroke="#222" stroke-width="1"/>
<line x1="380.0" y1="468.5" x2="383.0" y2="468.5" stroke="#222" stroke-width="1"/>
<rect x="375.5" y="470.5" width="12" height="33.60000000000002" fill="#fff" stroke="#3a3a3a" stroke-width="1"/>
<line x1="394.5" y1="466.5" x2="394.5" y2="468" stroke="#222" stroke-width="1"/>
<line x1="393.0" y1="466.5" x2="396.0" y2="466.5" stroke="#222" stroke-width="1"/>
<rect x="388" y="468" width="12" height="36.10000000000002" fill="#000"/>
<line x1="416.5" y1="436.5" x2="416.5" y2="446" stroke="#222" stroke-width="1"/>
<line x1="415.0" y1="436.5" x2="418.0" y2="436.5" stroke="#222" stroke-width="1"/>
<rect x="410.5" y="446.5" width="12" height="57.60000000000002" fill="#fff" stroke="#3a3a3a" stroke-width="1"/>
<line x1="429.5" y1="436.5" x2="429.5" y2="444" stroke="#222" stroke-width="1"/>
<line x1="428.0" y1="436.5" x2="431.0" y2="436.5" stroke="#222" stroke-width="1"/>
<rect x="423" y="444" width="13" height="60.10000000000002" fill="#000"/>
<line x1="452.5" y1="437.5" x2="452.5" y2="442" stroke="#222" stroke-width="1"/>
<line x1="451.0" y1="437.5" x2="454.0" y2="437.5" stroke="#222" stroke-width="1"/>
<rect x="446.5" y="442.5" width="12" height="61.60000000000002" fill="#fff" stroke="#3a3a3a" stroke-width="1"/>
<line x1="465.5" y1="414.5" x2="465.5" y2="420" stroke="#222" stroke-width="1"/>
<line x1="464.0" y1="414.5" x2="467.0" y2="414.5" stroke="#222" stroke-width="1"/>
<rect x="459" y="420" width="12" height="84.10000000000002" fill="#000"/>
<line x1="488.5" y1="460.5" x2="488.5" y2="463" stroke="#222" stroke-width="1"/>
<line x1="487.0" y1="460.5" x2="490.0" y2="460.5" stroke="#222" stroke-width="1"/>
<rect x="482.5" y="463.5" width="11" height="40.60000000000002" fill="#fff" stroke="#3a3a3a" stroke-width="1"/>
<line x1="500.5" y1="459.5" x2="500.5" y2="462" stroke="#222" stroke-width="1"/>
<line x1="499.0" y1="459.5" x2="502.0" y2="459.5" stroke="#222" stroke-width="1"/>
<rect x="494" y="462" width="13" height="42.10000000000002" fill="#000"/>
<text x="387.675" y="517.9" font-size="8.7" text-anchor="middle" font-weight="bold" font-style="normal" >vehicle</text>
<text x="423.425" y="517.9" font-size="8.7" text-anchor="middle" font-weight="bold" font-style="normal" >FG-4497</text>
<text x="423.425" y="527.8" font-size="8.7" text-anchor="middle" font-weight="bold" font-style="normal" >3 wks</text>
<text x="458.925" y="517.9" font-size="8.7" text-anchor="middle" font-weight="bold" font-style="normal" >FG-4497</text>
<text x="458.925" y="527.8" font-size="8.7" text-anchor="middle" font-weight="bold" font-style="normal" >4 wks</text>
<text x="494.55" y="517.9" font-size="8.7" text-anchor="middle" font-weight="bold" font-style="normal" >FG-4497</text>
<text x="494.55" y="527.8" font-size="8.7" text-anchor="middle" font-weight="bold" font-style="normal" >5 wks</text>
<text x="465.5" y="417.0" font-size="14" text-anchor="middle" font-weight="bold" font-style="normal" >*</text>
<rect x="405.2" y="184.29999999999998" width="6.0" height="6.0" fill="#fff" stroke="#666" stroke-width="1"/>
<text x="412.6" y="190.1" font-size="8.7" text-anchor="start" font-weight="bold" font-style="normal" >wt</text>
<rect x="432.79999999999995" y="184.5" width="6.2" height="6.0" fill="#000"/>
<text x="443.25" y="190.1" font-size="8.85" text-anchor="start" font-weight="bold" font-style="italic" >Hif-p4h-3<tspan font-size="5" dx="0.6" dy="-4.3" style="fill:#444;stroke:none">-/-</tspan></text>
<rect x="405.2" y="360.0" width="6.0" height="6.0" fill="#fff" stroke="#666" stroke-width="1"/>
<text x="412.6" y="365.8" font-size="8.7" text-anchor="start" font-weight="bold" font-style="normal" >wt</text>
<rect x="432.79999999999995" y="360.2" width="6.2" height="6.0" fill="#000"/>
<text x="443.25" y="365.8" font-size="8.85" text-anchor="start" font-weight="bold" font-style="italic" >Hif-p4h-3<tspan font-size="5" dx="0.6" dy="-4.3" style="fill:#444;stroke:none">-/-</tspan></text>
<rect x="405.2" y="534.6" width="6.0" height="6.0" fill="#fff" stroke="#666" stroke-width="1"/>
<text x="412.6" y="540.4" font-size="8.7" text-anchor="start" font-weight="bold" font-style="normal" >wt</text>
<rect x="432.79999999999995" y="534.8" width="6.2" height="6.0" fill="#000"/>
<text x="443.25" y="540.4" font-size="8.85" text-anchor="start" font-weight="bold" font-style="italic" >Hif-p4h-3<tspan font-size="5" dx="0.6" dy="-4.3" style="fill:#444;stroke:none">-/-</tspan></text>
</svg>
</body></html>
